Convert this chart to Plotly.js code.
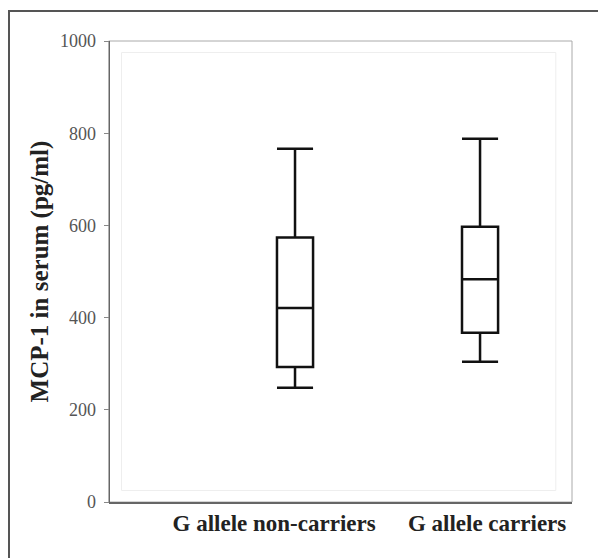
<!DOCTYPE html>
<html>
<head>
<meta charset="utf-8">
<script src="https://cdn.plot.ly/plotly-3.0.1.min.js"></script>
<style>html,body{margin:0;padding:0;background:#fff;}#chart{width:598px;height:558px;}</style>
</head>
<body>
<div id="chart"></div>
<script>
const categories = ["G allele non-carriers", "G allele carriers"];
const lowerWhisker = [248, 304];
const q1Values = [293, 367];
const medianValues = [421, 483];
const q3Values = [574, 597];
const upperWhisker = [766, 788];
const yTickValues = [0, 200, 400, 600, 800, 1000];
const yTickLabels = ["0", "200", "400", "600", "800", "1000"];
const yTitle = "MCP-1 in serum (pg/ml)";
// label centres in category units (labels sit slightly off the box centres in the original)
const xLabelPositions = [-0.113, 1.038];

const SERIF = "Liberation Serif, DejaVu Serif, serif";

const trace = {
  type: "box",
  x: categories,
  q1: q1Values,
  median: medianValues,
  q3: q3Values,
  lowerfence: lowerWhisker,
  upperfence: upperWhisker,
  width: 0.195,
  whiskerwidth: 1,
  fillcolor: "#ffffff",
  line: {color: "#111111", width: 2.5},
  boxpoints: false,
  hoverinfo: "none",
  showlegend: false
};

const xRange = [-1.0, 1.497];

const layout = {
  width: 598, height: 558,
  margin: {l: 110, r: 26, t: 41, b: 56},
  paper_bgcolor: "#ffffff",
  plot_bgcolor: "#ffffff",
  font: {family: SERIF, color: "#222222"},
  showlegend: false,
  xaxis: {
    type: "category",
    range: xRange,
    showticklabels: false,
    ticks: "",
    showgrid: false,
    zeroline: false,
    showline: true,
    linecolor: "#666",
    linewidth: 1.5,
    fixedrange: true
  },
  xaxis2: {
    type: "linear",
    overlaying: "x",
    side: "bottom",
    range: xRange,
    tickvals: xLabelPositions,
    ticktext: categories,
    ticks: "",
    ticklabelstandoff: 5,
    tickfont: {family: SERIF, size: 23, weight: 700, color: "#222222"},
    showgrid: false,
    zeroline: false,
    showline: false,
    fixedrange: true
  },
  yaxis: {
    range: [0, 1000],
    tickvals: yTickValues,
    ticktext: yTickLabels,
    ticks: "outside",
    ticklen: 5,
    tickcolor: "#888",
    ticklabelstandoff: 4,
    showgrid: false,
    zeroline: false,
    showline: true,
    linecolor: "#666",
    linewidth: 1.5,
    tickfont: {family: SERIF, size: 18, color: "#555555"},
    title: {
      text: yTitle,
      standoff: 4,
      font: {family: SERIF, size: 25, weight: 700, color: "#222222"}
    },
    fixedrange: true
  },
  shapes: [
    {type: "rect", xref: "paper", yref: "paper", x0: -0.003, x1: 1, y0: 0, y1: 1,
     line: {color: "#aaa", width: 1}, fillcolor: "rgba(0,0,0,0)", layer: "below"},
    {type: "rect", xref: "paper", yref: "paper", x0: 0.025, x1: 0.965, y0: 0.025, y1: 0.975,
     line: {color: "#eeeeee", width: 1}, fillcolor: "rgba(0,0,0,0)", layer: "below"},
    {type: "rect", xref: "paper", yref: "paper", x0: -101/462, x1: 1.2, y0: -0.5, y1: 1 + 30/461,
     line: {color: "#555", width: 2}, fillcolor: "rgba(0,0,0,0)", layer: "above"}
  ]
};

const labelTrace = {type: "scatter", x: [], y: [], xaxis: "x2", yaxis: "y", showlegend: false, hoverinfo: "none"};

Plotly.newPlot("chart", [trace, labelTrace], layout, {displayModeBar: false, staticPlot: true});
</script>
</body>
</html>
